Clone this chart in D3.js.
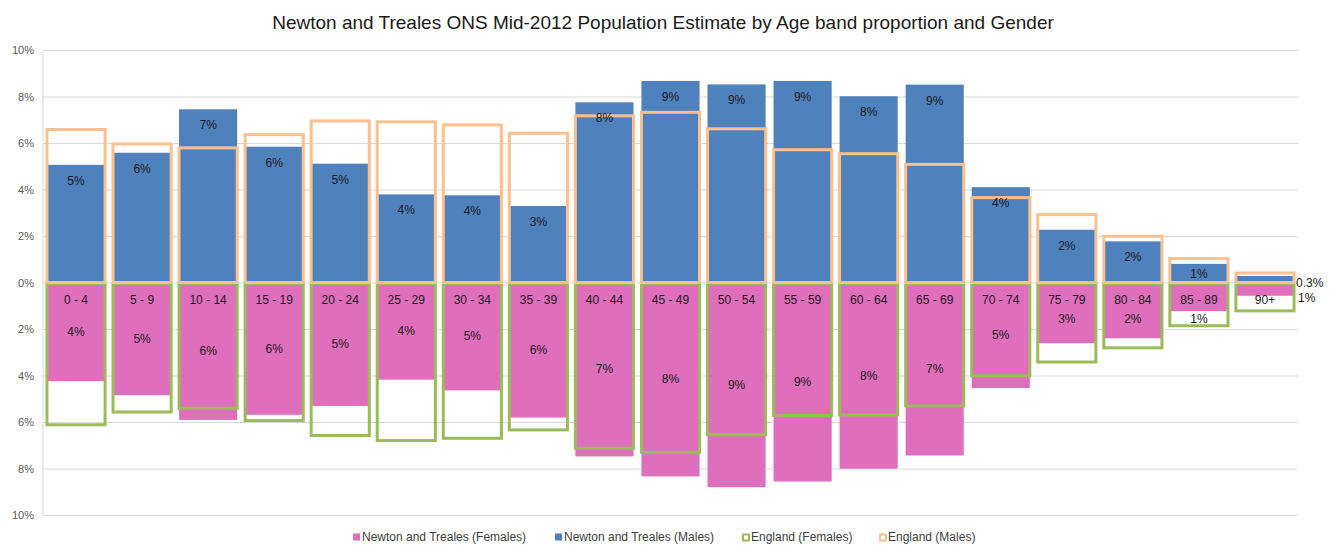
<!DOCTYPE html>
<html>
<head>
<meta charset="utf-8">
<script src="https://cdn.jsdelivr.net/npm/d3@7"></script>
<style>
  body { margin: 0; background: #fff; }
  svg { font-family: 'Liberation Sans', Arial, sans-serif; }
</style>
</head>
<body>
<svg width="1336" height="545"></svg>
<script>

let ageBands = ['0 - 4', '5 - 9', '10 - 14', '15 - 19', '20 - 24', '25 - 29', '30 - 34',
                '35 - 39', '40 - 44', '45 - 49', '50 - 54', '55 - 59', '60 - 64', '65 - 69',
                '70 - 74', '75 - 79', '80 - 84', '85 - 89', '90+'];

// percentages of total population
let localMales   = [5.06, 5.58, 7.45, 5.84, 5.11, 3.79, 3.75, 3.29, 7.75, 8.67,
                    8.52, 8.67, 8.01, 8.51, 4.10, 2.27, 1.77, 0.80, 0.28];
let localFemales = [4.24, 4.85, 5.91, 5.69, 5.31, 4.18, 4.64, 5.81, 7.48, 8.34,
                    8.80, 8.56, 8.01, 7.44, 4.54, 2.61, 2.40, 1.23, 0.57];
let englandMales   = [6.58, 5.96, 5.79, 6.36, 6.95, 6.91, 6.78, 6.42, 7.17, 7.32,
                      6.61, 5.71, 5.54, 5.08, 3.65, 2.92, 1.99, 1.03, 0.41];
let englandFemales = [6.12, 5.57, 5.41, 5.94, 6.58, 6.80, 6.70, 6.34, 7.13, 7.30,
                      6.55, 5.72, 5.70, 5.31, 4.01, 3.42, 2.81, 1.86, 1.22];

let yTicks = [-10, -8, -6, -4, -2, 0, 2, 4, 6, 8, 10];

let title = 'Newton and Treales ONS Mid-2012 Population Estimate by Age band proportion and Gender';
let legendNames = ['Newton and Treales (Females)', 'Newton and Treales (Males)',
                   'England (Females)', 'England (Males)'];

let svg = d3.select('svg');

let xScale = d3.scaleBand()
               .domain(ageBands)
               .range([43, 1298])
               .paddingInner(0.12)
               .paddingOuter(0.06);

let yScale = d3.scaleLinear()
               .domain([-10, 10])
               .range([515, 50]);

let y0 = yScale(0);

// gridlines + labels
let yAxis = d3.axisLeft(yScale)
              .tickValues(yTicks)
              .tickSize(-(1298 - 43))
              .tickFormat(function(d) { return Math.abs(d) + '%'; });

let yAxisG = svg.append('g')
                .attr('id', 'yAxisG')
                .attr('transform', 'translate(43,0)')
                .call(yAxis);

yAxisG.select('.domain')
      .attr('stroke', '#d9d9d9')
      .attr('d', 'M0,' + yScale(10) + 'V' + yScale(-10));
yAxisG.selectAll('.tick line')
      .attr('stroke', '#d9d9d9');
yAxisG.selectAll('.tick text')
      .attr('x', -9)
      .style('font-size', '11px')
      .style('fill', '#595959');

// data rows
let rows = ageBands.map(function(band, i) {
  return {
    band: band,
    lm: localMales[i],
    lf: localFemales[i],
    em: englandMales[i],
    ef: englandFemales[i],
    last: i === ageBands.length - 1
  };
});

function pctLabel(v) {
  return v < 0.5 ? v.toFixed(1) + '%' : Math.round(v) + '%';
}

// Newton and Treales males (up)
svg.selectAll('rect.lm')
   .data(rows)
   .enter()
   .append('rect')
   .attr('class', 'lm')
   .attr('x', function(d) { return xScale(d.band); })
   .attr('width', xScale.bandwidth())
   .attr('y', function(d) { return yScale(d.lm); })
   .attr('height', function(d) { return y0 - yScale(d.lm); })
   .style('fill', '#4f81bd');

// Newton and Treales females (down)
svg.selectAll('rect.lf')
   .data(rows)
   .enter()
   .append('rect')
   .attr('class', 'lf')
   .attr('x', function(d) { return xScale(d.band); })
   .attr('width', xScale.bandwidth())
   .attr('y', y0 + 1)
   .attr('height', function(d) { return yScale(-d.lf) - y0 - 1; })
   .style('fill', '#df6ebd');

// England outlines (females first so the males' bottom edge stays on top)
svg.selectAll('rect.ef')
   .data(rows)
   .enter()
   .append('rect')
   .attr('class', 'ef')
   .attr('x', function(d) { return xScale(d.band); })
   .attr('width', xScale.bandwidth())
   .attr('y', y0 + 1)
   .attr('height', function(d) { return yScale(-d.ef) - y0 - 1; })
   .style('fill', 'none')
   .style('stroke', '#9bbb59')
   .style('stroke-width', 3);

svg.selectAll('rect.em')
   .data(rows)
   .enter()
   .append('rect')
   .attr('class', 'em')
   .attr('x', function(d) { return xScale(d.band); })
   .attr('width', xScale.bandwidth())
   .attr('y', function(d) { return yScale(d.em); })
   .attr('height', function(d) { return y0 - yScale(d.em); })
   .style('fill', 'none')
   .style('stroke', '#fbc08e')
   .style('stroke-width', 3);

// labels
let labelG = svg.append('g')
                .style('font-size', '12px')
                .style('fill', '#1a1a1a');

labelG.selectAll('text.cat')
      .data(rows)
      .enter()
      .append('text')
      .attr('class', 'cat')
      .attr('x', function(d) { return xScale(d.band) + xScale.bandwidth() / 2; })
      .attr('y', y0 + 21)
      .attr('text-anchor', 'middle')
      .text(function(d) { return d.band; });

labelG.selectAll('text.lmLabel')
      .data(rows)
      .enter()
      .append('text')
      .attr('class', 'lmLabel')
      .attr('x', function(d) {
        if (d.last) return xScale(d.band) + xScale.bandwidth() + 2;
        return xScale(d.band) + xScale.bandwidth() / 2;
      })
      .attr('y', function(d) {
        if (d.last) return y0 + 4;
        return Math.min(yScale(d.lm) + 20, y0 - 5);
      })
      .attr('text-anchor', function(d) { return d.last ? 'start' : 'middle'; })
      .text(function(d) { return pctLabel(d.lm); });

labelG.selectAll('text.lfLabel')
      .data(rows)
      .enter()
      .append('text')
      .attr('class', 'lfLabel')
      .attr('x', function(d) {
        if (d.last) return xScale(d.band) + xScale.bandwidth() + 4;
        return xScale(d.band) + xScale.bandwidth() / 2;
      })
      .attr('y', function(d) {
        if (d.last) return y0 + 19;
        let mid = (y0 + yScale(-d.lf)) / 2;
        return Math.max(mid, y0 + 36) + 4;
      })
      .attr('text-anchor', function(d) { return d.last ? 'start' : 'middle'; })
      .text(function(d) { return pctLabel(d.lf); });

// title
svg.append('text')
   .attr('x', 663)
   .attr('y', 29)
   .attr('text-anchor', 'middle')
   .style('font-size', '19px')
   .style('fill', '#1a1a1a')
   .text(title);

// legend
let legendX = [353, 555, 742, 879];
let legendG = svg.append('g')
                 .style('font-size', '12px')
                 .style('fill', '#404040');

legendNames.forEach(function(name, i) {
  let g = legendG.append('g')
                 .attr('transform', 'translate(' + legendX[i] + ',537)');
  if (i < 2) {
    g.append('rect')
     .attr('x', 0).attr('y', -3.5)
     .attr('width', 7).attr('height', 7)
     .style('fill', i === 0 ? '#df6ebd' : '#4f81bd');
  } else {
    g.append('rect')
     .attr('x', 1).attr('y', -2.5)
     .attr('width', 6).attr('height', 6)
     .style('fill', 'none')
     .style('stroke', i === 2 ? '#9bbb59' : '#fbc08e')
     .style('stroke-width', 2);
  }
  g.append('text')
   .attr('x', 9)
   .attr('y', 4)
   .text(name);
});

</script>
</body>
</html>
